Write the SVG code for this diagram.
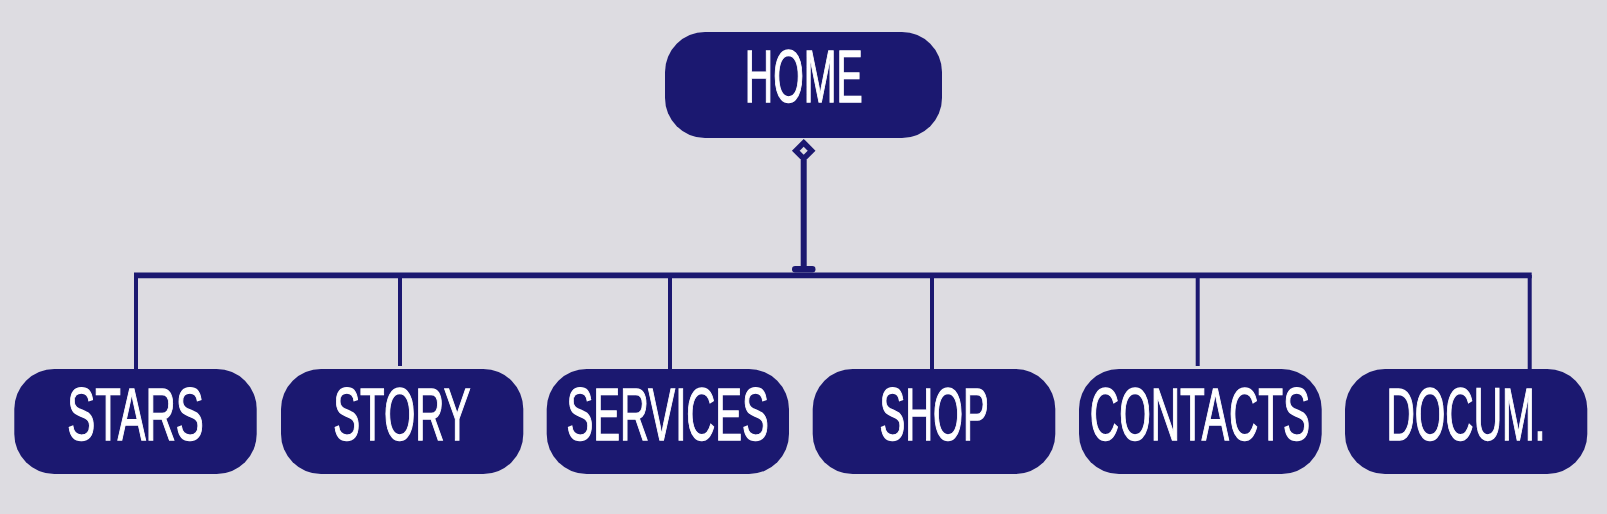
<svg xmlns="http://www.w3.org/2000/svg" width="1607" height="514" viewBox="0 0 1607 514">
<style>
.node{fill:#1b1870}
.lbl{fill:#ffffff;stroke:#ffffff;stroke-width:1.4;font-family:"Liberation Sans Narrow","Liberation Sans",sans-serif;font-size:74px;text-anchor:middle}
.ln{stroke:#1b1870;fill:none}
</style>
<rect width="1607" height="514" fill="#dddce1"/>
<g id="connectors">
<line class="ln" x1="803.7" y1="160" x2="803.7" y2="269" stroke-width="6"/>
<path class="ln" d="M803.7 142.8 L811.6 150.7 L803.7 158.6 L795.8 150.7 Z" stroke-width="5.5" stroke-linejoin="miter"/>
<rect x="792" y="266" width="23.5" height="6.5" rx="3.2" fill="#1b1870"/>
<line class="ln" x1="134" y1="275.3" x2="1531.7" y2="275.3" stroke-width="5.7"/>
<line class="ln" x1="136" y1="275" x2="136" y2="369" stroke-width="4"/>
<line class="ln" x1="400" y1="275" x2="400" y2="366" stroke-width="4"/>
<line class="ln" x1="670" y1="275" x2="670" y2="369" stroke-width="4"/>
<line class="ln" x1="932" y1="275" x2="932" y2="369" stroke-width="4"/>
<line class="ln" x1="1197.7" y1="275" x2="1197.7" y2="366" stroke-width="4"/>
<line class="ln" x1="1529.7" y1="275" x2="1529.7" y2="369" stroke-width="4"/>
</g>
<g id="home">
<rect class="node" x="665" y="32" width="277" height="106" rx="40"/>
<text class="lbl" x="803.8" y="102" textLength="118" lengthAdjust="spacingAndGlyphs">HOME</text>
</g>
<g id="stars">
<rect class="node" x="14.3" y="369" width="242.4" height="105" rx="40"/>
<text class="lbl" x="135.5" y="440" textLength="136.6" lengthAdjust="spacingAndGlyphs">STARS</text>
</g>
<g id="story">
<rect class="node" x="281" y="369" width="242.3" height="105" rx="40"/>
<text class="lbl" x="401.9" y="440" textLength="137.3" lengthAdjust="spacingAndGlyphs">STORY</text>
</g>
<g id="services">
<rect class="node" x="546.7" y="369" width="242.3" height="105" rx="40"/>
<text class="lbl" x="667.7" y="440" textLength="202.3" lengthAdjust="spacingAndGlyphs">SERVICES</text>
</g>
<g id="shop">
<rect class="node" x="812.7" y="369" width="242.6" height="105" rx="40"/>
<text class="lbl" x="934.2" y="440" textLength="109.3" lengthAdjust="spacingAndGlyphs">SHOP</text>
</g>
<g id="contacts">
<rect class="node" x="1079" y="369" width="242.7" height="105" rx="40"/>
<text class="lbl" x="1200" y="440" textLength="220.4" lengthAdjust="spacingAndGlyphs">CONTACTS</text>
</g>
<g id="docum">
<rect class="node" x="1345" y="369" width="242.3" height="105" rx="40"/>
<text class="lbl" x="1466" y="440" textLength="159" lengthAdjust="spacingAndGlyphs">DOCUM.</text>
</g>
</svg>
